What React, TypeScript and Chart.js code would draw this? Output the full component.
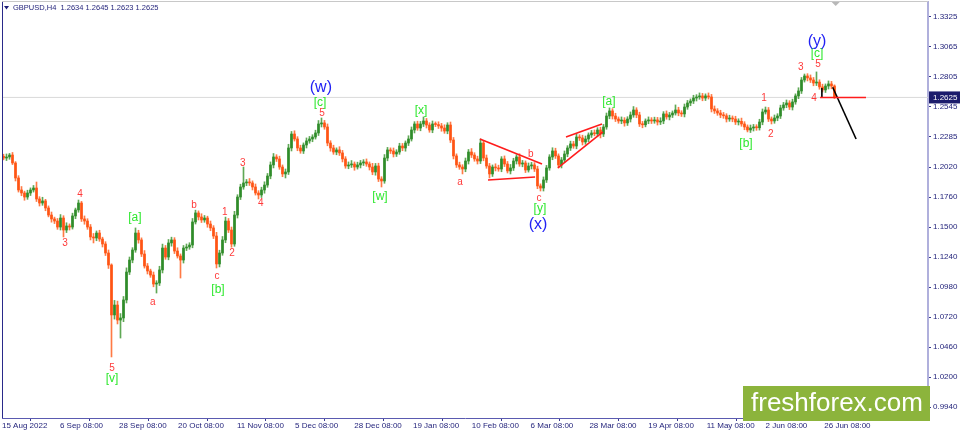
import React, { useEffect, useRef } from "react";
import { Chart, registerables } from "chart.js";
Chart.register(...registerables);

// ---------- DATA ----------
const symbolHeader = "GBPUSD,H4  1.2634 1.2645 1.2623 1.2625";
const lastPrice = 1.2625;
const firstOpen = 1.2115;

// close of each (aggregated) H4 candle
const closes = [
  1.2100, 1.2109, 1.2126, 1.2057, 1.1927, 1.1823, 1.1797, 1.1762, 1.1797, 1.1823,
  1.1840, 1.1745, 1.1710, 1.1728, 1.1667, 1.1606, 1.1572, 1.1554, 1.1502, 1.1580,
  1.1476, 1.1511, 1.1502, 1.1598, 1.1650, 1.1710, 1.1572, 1.1554, 1.1502, 1.1416,
  1.1407, 1.1450, 1.1398, 1.1355, 1.1277, 1.1173, 1.0740, 1.0826, 1.0696, 1.0714,
  1.0870, 1.1112, 1.1216, 1.1303, 1.1450, 1.1390, 1.1268, 1.1164, 1.1121, 1.1086,
  1.1008, 1.1017, 1.1130, 1.1320, 1.1242, 1.1364, 1.1390, 1.1294, 1.1251, 1.1216,
  1.1320, 1.1329, 1.1346, 1.1546, 1.1624, 1.1589, 1.1563, 1.1580, 1.1528, 1.1494,
  1.1424, 1.1182, 1.1277, 1.1390, 1.1554, 1.1476, 1.1355, 1.1606, 1.1762, 1.1849,
  1.1884, 1.1892, 1.1884, 1.1849, 1.1797, 1.1780, 1.1823, 1.1866, 1.1944, 1.2040,
  1.2109, 1.2092, 1.2022, 1.1962, 1.1979, 1.2187, 1.2308, 1.2265, 1.2187, 1.2161,
  1.2213, 1.2248, 1.2265, 1.2282, 1.2317, 1.2395, 1.2404, 1.2369, 1.2230, 1.2187,
  1.2152, 1.2170, 1.2144, 1.2092, 1.2031, 1.2040, 1.2048, 1.2022, 1.2040, 1.2057,
  1.2066, 1.2048, 1.2022, 1.1979, 1.2031, 1.1918, 1.1901, 1.2100, 1.2170, 1.2161,
  1.2135, 1.2152, 1.2204, 1.2187, 1.2230, 1.2265, 1.2343, 1.2395, 1.2360, 1.2395,
  1.2421, 1.2386, 1.2343, 1.2395, 1.2390, 1.2378, 1.2360, 1.2334, 1.2386, 1.2256,
  1.2118, 1.2040, 1.2022, 1.2005, 1.2074, 1.2152, 1.2126, 1.2092, 1.2074, 1.2230,
  1.2100, 1.2031, 1.1962, 1.2022, 1.2014, 1.2005, 1.2092, 1.2048, 1.1988, 1.2014,
  1.2074, 1.2109, 1.2048, 1.2057, 1.1996, 1.2031, 1.2040, 1.2005, 1.1858, 1.1840,
  1.1910, 1.2014, 1.2109, 1.2161, 1.2118, 1.2040, 1.2083, 1.2135, 1.2187, 1.2222,
  1.2204, 1.2282, 1.2274, 1.2239, 1.2265, 1.2300, 1.2317, 1.2310, 1.2343, 1.2308,
  1.2369, 1.2464, 1.2508, 1.2464, 1.2438, 1.2421, 1.2428, 1.2404, 1.2438, 1.2473,
  1.2516, 1.2473, 1.2395, 1.2388, 1.2421, 1.2430, 1.2421, 1.2430, 1.2412, 1.2421,
  1.2482, 1.2456, 1.2473, 1.2490, 1.2516, 1.2490, 1.2482, 1.2542, 1.2577, 1.2594,
  1.2620, 1.2629, 1.2638, 1.2620, 1.2638, 1.2629, 1.2525, 1.2508, 1.2490, 1.2473,
  1.2466, 1.2438, 1.2445, 1.2438, 1.2412, 1.2418, 1.2395, 1.2369, 1.2343, 1.2360,
  1.2369, 1.2362, 1.2412, 1.2499, 1.2516, 1.2438, 1.2421, 1.2447, 1.2464, 1.2534,
  1.2560, 1.2577, 1.2542, 1.2586, 1.2638, 1.2681, 1.2776, 1.2811, 1.2794, 1.2776,
  1.2750, 1.2758, 1.2716, 1.2690, 1.2724, 1.2742, 1.2724, 1.2625,
];

// upper / lower shadow lengths in pips
const wickUp = [
  18, 26, 14, 22, 12, 20, 30, 16, 24, 18,
  22, 52, 20, 32, 14, 18, 26, 16, 22, 30,
  20, 28, 18, 24, 16, 26, 14, 26, 20, 22,
  30, 18, 24, 16, 20, 26, 10, 40, 34, 38,
  30, 36, 26, 20, 44, 24, 18, 30, 22, 16,
  26, 20, 32, 34, 22, 30, 24, 20, 28, 18,
  22, 26, 20, 30, 24, 18, 28, 22, 16, 26,
  20, 32, 24, 30, 34, 22, 26, 32, 20, 24,
  138, 22, 30, 18, 26, 20, 24, 28, 22, 26,
  30, 20, 24, 18, 26, 32, 22, 28, 20, 24,
  18, 26, 22, 20, 24, 30, 43, 22, 26, 20,
  24, 18, 28, 22, 20, 26, 30, 18, 24, 22,
  20, 26, 18, 32, 22, 24, 20, 30, 22, 18,
  26, 20, 24, 22, 18, 28, 26, 20, 24, 22,
  35, 22, 20, 26, 18, 24, 22, 28, 20, 26,
  22, 18, 24, 20, 26, 22, 30, 20, 24, 35,
  20, 26, 22, 18, 28, 24, 20, 26, 22, 30,
  24, 20, 28, 22, 18, 26, 22, 20, 24, 18,
  26, 22, 20, 28, 24, 18, 22, 26, 20, 24,
  22, 28, 20, 24, 26, 18, 22, 26, 20, 24,
  22, 26, 26, 20, 24, 18, 28, 22, 20, 26,
  30, 20, 24, 22, 18, 26, 20, 24, 22, 28,
  20, 26, 22, 18, 44, 24, 20, 26, 22, 18,
  24, 20, 26, 22, 18, 26, 22, 26, 20, 24,
  22, 18, 26, 20, 24, 22, 28, 20, 18, 26,
  22, 20, 24, 26, 26, 22, 18, 26, 20, 24,
  22, 26, 20, 24, 18, 28, 22, 17, 20, 26,
  22, 88, 20, 24, 18, 26, 22, 10,
];
const wickDown = [
  16, 22, 20, 14, 26, 18, 24, 28, 20, 22,
  18, 22, 26, 20, 24, 16, 28, 22, 20, 26,
  60, 22, 26, 18, 24, 20, 22, 28, 20, 26,
  43, 24, 20, 26, 22, 30, 364, 36, 34, 156,
  32, 26, 22, 24, 20, 28, 22, 18, 26, 20,
  24, 78, 22, 26, 20, 24, 28, 22, 18, 156,
  26, 22, 20, 24, 18, 26, 22, 20, 28, 24,
  22, 35, 26, 20, 24, 22, 28, 20, 26, 22,
  20, 24, 22, 26, 18, 35, 22, 28, 20, 24,
  26, 22, 20, 24, 35, 22, 26, 18, 24, 20,
  22, 26, 20, 24, 18, 22, 26, 20, 24, 28,
  20, 24, 22, 26, 20, 24, 22, 28, 18, 26,
  22, 20, 26, 24, 28, 22, 52, 20, 24, 22,
  26, 22, 20, 24, 28, 22, 18, 26, 20, 24,
  22, 26, 20, 24, 18, 22, 28, 20, 24, 22,
  26, 22, 20, 43, 24, 26, 22, 20, 26, 22,
  24, 20, 35, 22, 26, 20, 24, 22, 18, 26,
  22, 26, 20, 24, 22, 18, 26, 22, 24, 26,
  26, 22, 20, 24, 22, 26, 26, 20, 24, 22,
  20, 24, 22, 26, 20, 24, 22, 18, 26, 34,
  22, 20, 24, 26, 22, 20, 24, 28, 22, 26,
  20, 24, 22, 26, 18, 24, 22, 20, 26, 22,
  24, 20, 26, 22, 18, 24, 22, 26, 20, 24,
  22, 26, 20, 24, 22, 18, 26, 22, 20, 24,
  22, 26, 20, 24, 22, 26, 20, 24, 17, 22,
  26, 22, 20, 24, 18, 22, 26, 20, 24, 22,
  20, 24, 22, 26, 20, 24, 22, 18, 26, 22,
  24, 22, 20, 18, 22, 26, 24, 10,
];

// time axis (candle index of each date label)
const xTickIndex = [-0.5, 18.8, 38.5, 58.2, 77.8, 97.2, 116.9, 136.5, 156.1, 175.7, 195.3, 214.9, 234.4, 254.0, 273.6];
const xTickLabels = [
  "15 Aug 2022", "6 Sep 08:00", "28 Sep 08:00", "20 Oct 08:00", "11 Nov 08:00",
  "5 Dec 08:00", "28 Dec 08:00", "19 Jan 08:00", "10 Feb 08:00", "6 Mar 08:00",
  "28 Mar 08:00", "19 Apr 08:00", "11 May 08:00", "2 Jun 08:00", "26 Jun 08:00",
];
const yTickValues = [1.3325, 1.3065, 1.2805, 1.2545, 1.2285, 1.2020, 1.1760, 1.1500, 1.1240, 1.0980, 1.0720, 1.0460, 1.0200, 0.9940];
const xMin = -0.5;
const xMax = 308.17;
const yMin = 0.9847;
const yMax = 1.3452;

// Elliott wave labels
const minorText = ["4", "3", "5", "a", "b", "c", "1", "2", "3", "4", "5", "a", "b", "c", "1", "2", "3", "5", "4"];
const minorX = [25.5, 20.5, 36.2, 49.8, 63.5, 71.2, 73.8, 76.2, 79.8, 85.8, 106.2, 152.2, 175.8, 178.5, 253.5, 255.8, 265.8, 271.5, 270.2];
const minorY = [1.1788, 1.1364, 1.0280, 1.0852, 1.1693, 1.1078, 1.1632, 1.1277, 1.2057, 1.1710, 1.2490, 1.1892, 1.2135, 1.1754, 1.2620, 1.2308, 1.2889, 1.2915, 1.2620];
const minuteText = ["[a]", "[v]", "[b]", "[c]", "[w]", "[x]", "[y]", "[a]", "[b]", "[c]"];
const minuteX = [43.8, 36.2, 71.5, 105.5, 125.5, 139.2, 178.8, 201.8, 247.5, 271.2];
const minuteY = [1.1580, 1.0185, 1.0956, 1.2577, 1.1762, 1.2508, 1.1658, 1.2586, 1.2222, 1.3002];
const minorDegText = ["(w)", "(x)", "(y)"];
const minorDegX = [105.8, 178.2, 271.2];
const minorDegY = [1.2707, 1.1520, 1.3106];

// drawn trend lines: [x1, y1, x2, y2]
const redLines = [
  [158.8, 1.2265, 179.5, 1.2048],
  [161.5, 1.1910, 177.2, 1.1936],
  [187.5, 1.2283, 199.5, 1.2395],
  [184.8, 1.2014, 199.8, 1.2326],
  [272.2, 1.2625, 287.5, 1.2625],
];
const blackLines = [
  [276.4, 1.2713, 284.2, 1.2265],
  [272.8, 1.2707, 272.8, 1.2629],
];

// ---------- CHART ----------
const NAVY = "#1e1e78";
const FONT = "'Liberation Sans', Arial, sans-serif";

export default function App() {
  const ref = useRef<HTMLCanvasElement>(null);

  useEffect(() => {
    document.body.style.margin = "0";
    const PIP = 0.0001;
    const opens = closes.map((c, i) => (i === 0 ? firstOpen : closes[i - 1]));
    const highs = closes.map((c, i) => Math.max(opens[i], c) + wickUp[i] * PIP);
    const lows = closes.map((c, i) => Math.min(opens[i], c) - wickDown[i] * PIP);
    const up = closes.map((c, i) => c >= opens[i]);
    const bodyColors = up.map((u) => (u ? "#2f8c2a" : "#ff5414"));
    const wickColors = up.map((u) => (u ? "#5fa855" : "#ff7a45"));

    const lineDs = (l: number[], color: string) => ({
      type: "line" as const,
      data: [{ x: l[0], y: l[1] }, { x: l[2], y: l[3] }],
      borderColor: color,
      borderWidth: 1.6,
      pointRadius: 0,
      order: 1,
      clip: false as any,
    });

    const decor = {
      id: "decor",
      afterDatasetsDraw(chart: any) {
        const { ctx, scales } = chart;
        const xs = scales.x, ys = scales.y;
        ctx.save();
        ctx.textAlign = "center";
        ctx.textBaseline = "middle";
        ctx.font = `10px ${FONT}`;
        ctx.fillStyle = "#ff3a3a";
        minorText.forEach((t, i) => ctx.fillText(t, xs.getPixelForValue(minorX[i]), ys.getPixelForValue(minorY[i])));
        ctx.font = `12px ${FONT}`;
        ctx.fillStyle = "#2ee82e";
        minuteText.forEach((t, i) => ctx.fillText(t, xs.getPixelForValue(minuteX[i]), ys.getPixelForValue(minuteY[i])));
        ctx.font = `16px ${FONT}`;
        ctx.fillStyle = "#2222f4";
        minorDegText.forEach((t, i) => ctx.fillText(t, xs.getPixelForValue(minorDegX[i]), ys.getPixelForValue(minorDegY[i])));
        ctx.restore();
      },
      afterDraw(chart: any) {
        const { ctx, chartArea, scales } = chart;
        const ys = scales.y, xs = scales.x;
        ctx.save();
        // left & top frame
        ctx.strokeStyle = "#2a2a8a";
        ctx.lineWidth = 1;
        ctx.beginPath();
        ctx.moveTo(chartArea.left + 0.5, chartArea.top);
        ctx.lineTo(chartArea.left + 0.5, chartArea.bottom);
        ctx.stroke();
        ctx.strokeStyle = "#c8c8c8";
        ctx.beginPath();
        ctx.moveTo(chartArea.left, chartArea.top - 0.5);
        ctx.lineTo(chartArea.right, chartArea.top - 0.5);
        ctx.stroke();
        // chart shift marker
        const sx = xs.getPixelForValue(closes.length - 0.6);
        ctx.fillStyle = "#b8b8b8";
        ctx.beginPath();
        ctx.moveTo(sx - 4, chartArea.top);
        ctx.lineTo(sx + 4, chartArea.top);
        ctx.lineTo(sx, chartArea.top + 4);
        ctx.closePath();
        ctx.fill();
        // header
        ctx.fillStyle = NAVY;
        ctx.beginPath();
        ctx.moveTo(4, 6);
        ctx.lineTo(9, 6);
        ctx.lineTo(6.5, 9.5);
        ctx.closePath();
        ctx.fill();
        ctx.font = `7.5px ${FONT}`;
        ctx.textBaseline = "middle";
        ctx.textAlign = "left";
        ctx.fillText(symbolHeader, 13, 8);
        // price box
        const py = ys.getPixelForValue(lastPrice);
        ctx.fillStyle = "#1c1c6c";
        ctx.fillRect(chartArea.right + 1, py - 6, 960 - chartArea.right - 1, 12);
        ctx.fillStyle = "#ffffff";
        ctx.font = `8px ${FONT}`;
        ctx.fillText(lastPrice.toFixed(4), chartArea.right + 5, py + 0.5);
        // watermark
        ctx.fillStyle = "#8cb43c";
        ctx.fillRect(743, 386, 187, 35);
        ctx.fillStyle = "#ffffff";
        ctx.font = `26px ${FONT}`;
        ctx.textBaseline = "alphabetic";
        ctx.fillText("freshforex.com", 751, 411);
        ctx.restore();
      },
    };

    const chart = new Chart(ref.current as HTMLCanvasElement, {
      type: "bar",
      data: {
        datasets: [
          {
            type: "line",
            data: [{ x: xMin, y: lastPrice }, { x: xMax, y: lastPrice }],
            borderColor: "#dadada",
            borderWidth: 1,
            pointRadius: 0,
            order: 10,
          } as any,
          {
            type: "bar",
            data: closes.map((c, i) => ({ x: i, y: [lows[i], highs[i]] })),
            backgroundColor: wickColors,
            barThickness: 1,
            grouped: false,
            order: 6,
          } as any,
          {
            type: "bar",
            data: closes.map((c, i) => ({ x: i, y: [opens[i], c] })),
            backgroundColor: bodyColors,
            barThickness: 2,
            minBarLength: 1,
            grouped: false,
            order: 5,
          } as any,
          ...redLines.map((l) => lineDs(l, "#ff1c1c")),
          ...blackLines.map((l) => lineDs(l, "#000000")),
        ],
      },
      options: {
        animation: false,
        responsive: false,
        maintainAspectRatio: false,
        layout: { padding: { left: 2, top: 2, right: 0, bottom: 0 } },
        plugins: { legend: { display: false }, tooltip: { enabled: false } },
        events: [],
        scales: {
          x: {
            type: "linear",
            min: xMin,
            max: xMax,
            offset: false,
            afterBuildTicks: (s: any) => {
              s.ticks = xTickIndex.map((v) => ({ value: v }));
            },
            afterFit: (s: any) => {
              s.height = 12;
              s.paddingLeft = 0;
              s.paddingRight = 0;
            },
            ticks: {
              autoSkip: false,
              maxRotation: 0,
              align: "start",
              padding: 0,
              color: NAVY,
              font: { family: FONT, size: 8 },
              callback: (v: any, i: number) => xTickLabels[i],
            },
            grid: { drawOnChartArea: false, drawTicks: true, tickLength: 3, color: "#3a3a90" },
            border: { color: "#5a5ab0", width: 1 },
          },
          y: {
            type: "linear",
            position: "right",
            min: yMin,
            max: yMax,
            afterBuildTicks: (s: any) => {
              s.ticks = yTickValues.map((v) => ({ value: v }));
            },
            afterFit: (s: any) => {
              s.width = 32;
              s.paddingTop = 0;
              s.paddingBottom = 0;
            },
            ticks: {
              padding: 2,
              color: NAVY,
              font: { family: FONT, size: 8 },
              callback: (v: any) => Number(v).toFixed(4),
            },
            grid: { drawOnChartArea: false, drawTicks: true, tickLength: 3, color: "#3a3a90" },
            border: { color: "#b0b0dc", width: 2 },
          },
        },
      } as any,
      plugins: [decor],
    });
    return () => chart.destroy();
  }, []);

  return (
    <div style={{ width: 960, height: 430, background: "#ffffff" }}>
      <canvas ref={ref} width={960} height={430} style={{ display: "block", width: 960, height: 430 }} />
    </div>
  );
}
